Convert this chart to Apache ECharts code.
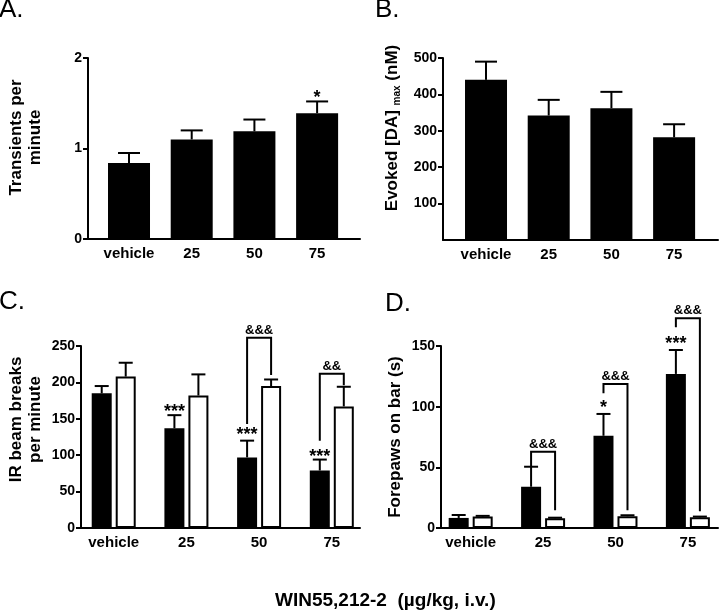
<!DOCTYPE html>
<html>
<head>
<meta charset="utf-8">
<script src="https://cdn.jsdelivr.net/npm/echarts@6/dist/echarts.min.js"></script>
<style>
html,body{margin:0;padding:0;background:#fff;}
#chart{width:720px;height:615px;}
</style>
</head>
<body>
<div id="chart"></div>
<script>
// ---------- data ----------
const categories = ['vehicle', '25', '50', '75'];
const groupIndex = [0, 1, 2, 3];

// A. Transients per minute
const transientsMean = [0.84, 1.10, 1.19, 1.39];
const transientsSem = [0.11, 0.10, 0.13, 0.13];
const transientsStars = [[3, 1.59, '*']];
const transientsTicks = [0, 1, 2];

// B. Evoked [DA]max (nM)
const evokedMean = [440, 342, 362, 282];
const evokedSem = [50, 43, 45, 36];
const evokedTicks = [100, 200, 300, 400, 500];

// C. IR beam breaks per minute (black / white bars)
const beamBlack = [185, 137, 97, 79];
const beamBlackSem = [10, 18, 23, 15];
const beamWhite = [208, 182, 195, 167];
const beamWhiteSem = [19, 29, 9, 27];
const beamStars = [[1, 164, '***'], [2, 132, '***'], [3, 102, '***']];
// [group, bracket top, left leg bottom, right leg bottom, text]
const beamBrackets = [[2, 261.5, 143, 210, '&&&'], [3, 212, 120, 196, '&&']];
const beamTicks = [0, 50, 100, 150, 200, 250];

// D. Forepaws on bar (s)
const pawsBlack = [8.3, 34, 76, 127];
const pawsBlackSem = [2.4, 16.5, 18, 19.7];
const pawsWhite = [9.4, 8.0, 9.7, 8.8];
const pawsWhiteSem = [0.6, 0.5, 0.8, 0.6];
const pawsStars = [[2, 101.3, '*'], [3, 154.4, '***']];
const pawsBrackets = [[1, 62.8, 50.4, 14.6, '&&&'], [2, 118.7, 111, 14.7, '&&&'], [3, 172.9, 165.5, 13.8, '&&&']];
const pawsTicks = [0, 50, 100, 150];

// ---------- helpers ----------
const FONT = 'Liberation Sans, Arial, Helvetica, sans-serif';
const pairs = (vals) => groupIndex.map((g, i) => [g, vals[i]]);
const errData = (vals, sems) => groupIndex.map((g, i) => [g, vals[i], sems[i]]);

function xAxisFor(idx, min, max) {
  return {
    gridIndex: idx, type: 'value', min: min, max: max,
    axisLine: {show: true, onZero: false, lineStyle: {color: '#000', width: 2}},
    axisTick: {show: false},
    splitLine: {show: false},
    axisLabel: {
      customValues: groupIndex,
      formatter: (v) => categories[Math.round(v)],
      color: '#000', fontWeight: 'bold', fontSize: 15, fontFamily: FONT, margin: 7
    }
  };
}
function yAxisFor(idx, min, max, ticks, name, gap, pad, rich) {
  return {
    gridIndex: idx, type: 'value', min: min, max: max,
    name: name, nameLocation: 'middle', nameGap: gap, nameRotate: 90,
    nameTextStyle: {color: '#000', fontWeight: 'bold', fontSize: 17, fontFamily: FONT,
      lineHeight: 19, padding: [0, 0, 0, pad], rich: rich || {}},
    axisLine: {show: true, onZero: false, lineStyle: {color: '#000', width: 2}},
    axisTick: {show: true, length: 5, customValues: ticks, lineStyle: {color: '#000', width: 2}},
    splitLine: {show: false},
    axisLabel: {customValues: ticks, color: '#000', fontWeight: 'bold', fontSize: 14, fontFamily: FONT, margin: 6}
  };
}
function errorSeries(idx, data, offset, cap) {
  return {
    type: 'custom', xAxisIndex: idx, yAxisIndex: idx, clip: false, z: 5,
    data: data,
    renderItem: function (params, api) {
      const x = api.value(0), y = api.value(1), e = api.value(2);
      const p0 = api.coord([x, y]);
      const p1 = api.coord([x, y + e]);
      const cx = p0[0] + offset;
      const st = {stroke: '#000', lineWidth: 2};
      return {type: 'group', children: [
        {type: 'line', shape: {x1: cx, y1: p0[1], x2: cx, y2: p1[1]}, style: st},
        {type: 'line', shape: {x1: cx - cap / 2, y1: p1[1], x2: cx + cap / 2, y2: p1[1]}, style: st}
      ]};
    }
  };
}
function starSeries(idx, data, offset) {
  return {
    type: 'custom', xAxisIndex: idx, yAxisIndex: idx, clip: false, z: 6,
    data: data,
    renderItem: function (params, api) {
      const p = api.coord([api.value(0), api.value(1)]);
      return {type: 'text', style: {x: p[0] + offset, y: p[1] + 3, text: data[params.dataIndex][2],
        fill: '#000', font: 'bold 18px ' + FONT, align: 'center', verticalAlign: 'middle'}};
    }
  };
}
function bracketSeries(idx, data, off) {
  return {
    type: 'custom', xAxisIndex: idx, yAxisIndex: idx, clip: false, z: 6,
    data: data,
    renderItem: function (params, api) {
      const g = api.value(0);
      const top = api.coord([g, api.value(1)]);
      const lb = api.coord([g, api.value(2)]);
      const rb = api.coord([g, api.value(3)]);
      const xl = top[0] - off, xr = top[0] + off;
      return {type: 'group', children: [
        {type: 'polyline', shape: {points: [[xl, lb[1]], [xl, top[1]], [xr, top[1]], [xr, rb[1]]]},
          style: {stroke: '#000', lineWidth: 2, fill: null}},
        {type: 'text', style: {x: top[0], y: top[1] - 1, text: data[params.dataIndex][4],
          fill: '#000', font: 'bold 13px ' + FONT, align: 'center', verticalAlign: 'bottom'}}
      ]};
    }
  };
}

const chart = echarts.init(document.getElementById('chart'), null, {renderer: 'canvas'});
const OFF = 12;
chart.setOption({
  animation: false,
  backgroundColor: '#fff',
  textStyle: {fontFamily: FONT},
  title: [
    {text: 'A.', left: -1, top: -3, padding: 0, textStyle: {fontSize: 26, fontWeight: 'normal', color: '#000', fontFamily: FONT}},
    {text: 'B.', left: 375, top: -3, padding: 0, textStyle: {fontSize: 26, fontWeight: 'normal', color: '#000', fontFamily: FONT}},
    {text: 'C.', left: -1, top: 289, padding: 0, textStyle: {fontSize: 26, fontWeight: 'normal', color: '#000', fontFamily: FONT}},
    {text: 'D.', left: 385, top: 291, padding: 0, textStyle: {fontSize: 26, fontWeight: 'normal', color: '#000', fontFamily: FONT}},
    {text: 'WIN55,212-2  (µg/kg, i.v.)', left: 275, top: 591, padding: 0, textStyle: {fontSize: 19, fontWeight: 'bold', color: '#000', fontFamily: FONT}}
  ],
  grid: [
    {left: 88, top: 58, width: 272, height: 181},
    {left: 443, top: 58, width: 275, height: 182},
    {left: 81, top: 346, width: 279, height: 182},
    {left: 441, top: 346, width: 277, height: 182}
  ],
  xAxis: [
    xAxisFor(0, -0.654, 3.684),
    xAxisFor(1, -0.686, 3.70),
    xAxisFor(2, -0.45, 3.388),
    xAxisFor(3, -0.41, 3.416)
  ],
  yAxis: [
    yAxisFor(0, 0, 2, transientsTicks, 'Transients per\nminute', 43, 22),
    yAxisFor(1, 0, 500, evokedTicks, 'Evoked [DA] {sub|max} (nM)', 41, 42,
      {sub: {fontSize: 10, fontWeight: 'bold', fontFamily: FONT, color: '#000', verticalAlign: 'bottom', padding: [10, 0, 0, 0]}}),
    yAxisFor(2, 0, 250, beamTicks, 'IR beam breaks\nper minute', 36, 35),
    yAxisFor(3, 0, 150, pawsTicks, 'Forepaws on bar (s)', 36, 0)
  ],
  series: [
    // A
    {type: 'bar', xAxisIndex: 0, yAxisIndex: 0, data: pairs(transientsMean), barWidth: 42, itemStyle: {color: '#000'}},
    errorSeries(0, errData(transientsMean, transientsSem), 0, 22),
    starSeries(0, transientsStars, 0),
    // B
    {type: 'bar', xAxisIndex: 1, yAxisIndex: 1, data: pairs(evokedMean), barWidth: 42, itemStyle: {color: '#000'}},
    errorSeries(1, errData(evokedMean, evokedSem), 0, 22),
    // C
    {type: 'bar', xAxisIndex: 2, yAxisIndex: 2, data: pairs(beamBlack), barWidth: 20, barGap: '20%', itemStyle: {color: '#000'}},
    {type: 'bar', xAxisIndex: 2, yAxisIndex: 2, data: pairs(beamWhite), barWidth: 20, barGap: '20%', itemStyle: {color: '#fff', borderColor: '#000', borderWidth: 2}},
    errorSeries(2, errData(beamBlack, beamBlackSem), -OFF, 14),
    errorSeries(2, errData(beamWhite, beamWhiteSem), OFF, 14),
    starSeries(2, beamStars, -OFF),
    bracketSeries(2, beamBrackets, OFF),
    // D
    {type: 'bar', xAxisIndex: 3, yAxisIndex: 3, data: pairs(pawsBlack), barWidth: 20, barGap: '20%', itemStyle: {color: '#000'}},
    {type: 'bar', xAxisIndex: 3, yAxisIndex: 3, data: pairs(pawsWhite), barWidth: 20, barGap: '20%', itemStyle: {color: '#fff', borderColor: '#000', borderWidth: 2}},
    errorSeries(3, errData(pawsBlack, pawsBlackSem), -OFF, 14),
    errorSeries(3, errData(pawsWhite, pawsWhiteSem), OFF, 14),
    starSeries(3, pawsStars, -OFF),
    bracketSeries(3, pawsBrackets, OFF)
  ]
});
</script>
</body>
</html>
